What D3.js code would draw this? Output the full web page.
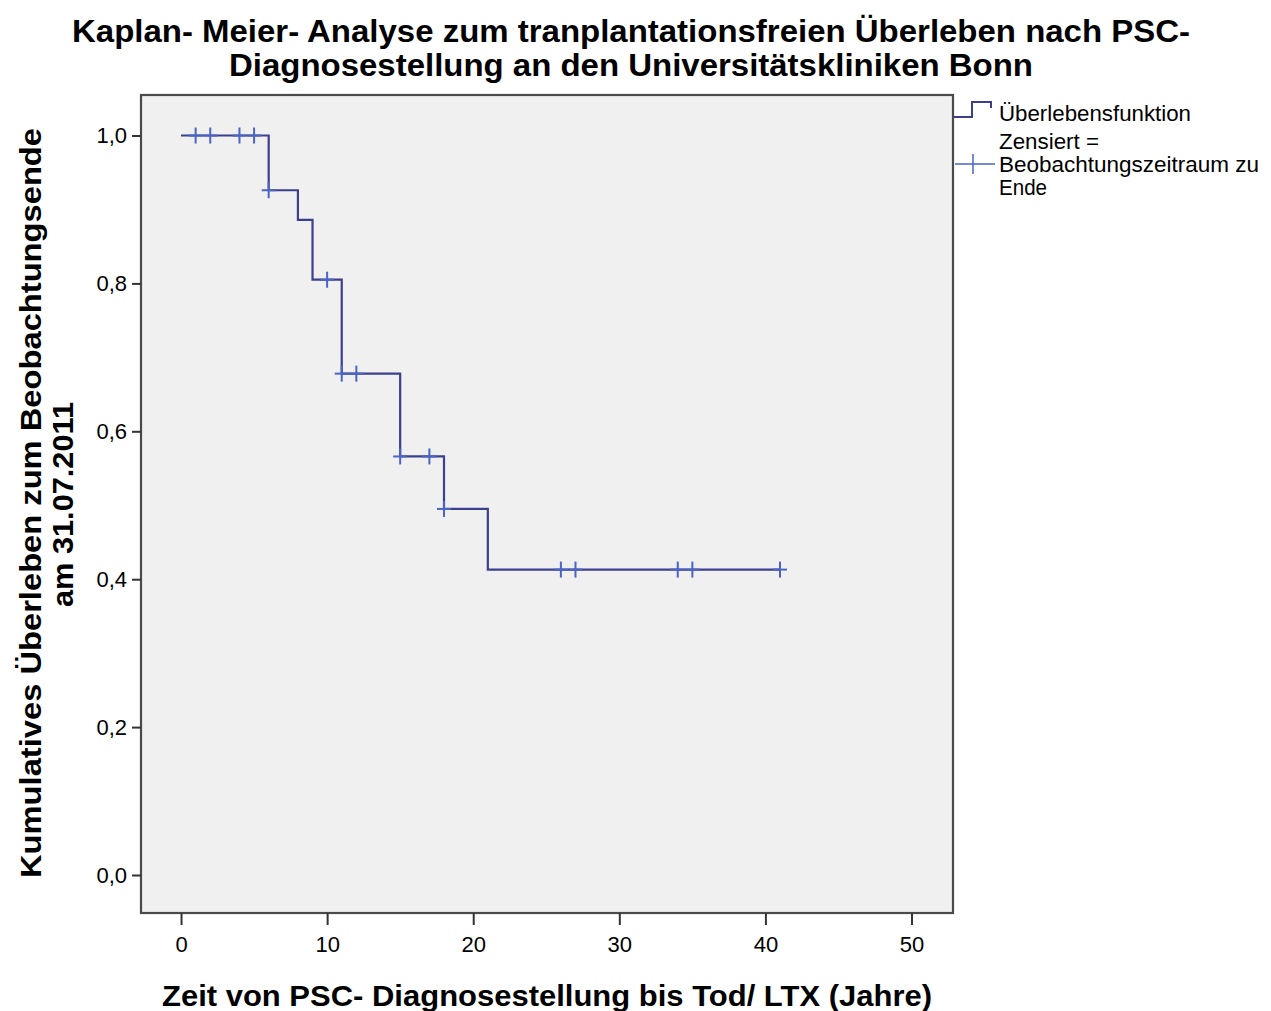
<!DOCTYPE html>
<html>
<head>
<meta charset="utf-8">
<script src="https://cdn.jsdelivr.net/npm/d3@7"></script>
<style>
  body { margin: 0; background: #fff; }
  text { font-family: "Liberation Sans", Arial, sans-serif; fill: #000; }
</style>
</head>
<body>
<div id="chart"></div>
<script>
// Kaplan-Meier steps (time in years, cumulative survival)
var stepTimes = [0, 6, 8, 9, 11, 15, 18, 21];
var stepSurvival = [1.0, 0.926, 0.886, 0.805, 0.678, 0.566, 0.495, 0.413];
var lastTime = 41;
// censored observations (time in years)
var censorTimes = [1, 2, 4, 5, 6, 10, 11, 12, 15, 17, 18, 26, 27, 34, 35, 41];

var xTicks = [0, 10, 20, 30, 40, 50];
var yTicks = [0, 0.2, 0.4, 0.6, 0.8, 1.0];

var titleLines = ["Kaplan- Meier- Analyse zum tranplantationsfreien Überleben nach PSC-",
                  "Diagnosestellung an den Universitätskliniken Bonn"];
var yLabelLines = ["Kumulatives Überleben zum Beobachtungsende", "am 31.07.2011"];
var xLabel = "Zeit von PSC- Diagnosestellung bis Tod/ LTX (Jahre)";
var legendLines = ["Überlebensfunktion", "Zensiert =", "Beobachtungszeitraum zu", "Ende"];

var width = 1271,
    height = 1011,
    plot = { left: 141, right: 953, top: 95, bottom: 913 },
    lineColor = "#3c3f8e",
    censorColor = "#4a63c6";

var x = d3.scaleLinear().domain([-2.74, 52.84]).range([plot.left, plot.right]);
var y = d3.scaleLinear().domain([-0.0514, 1.0548]).range([plot.bottom, plot.top]);

var comma = d3.formatLocale({ decimal: ",", thousands: ".", grouping: [3], currency: ["", "€"] }).format(".1f");

var svg = d3.select("#chart").append("svg")
    .attr("width", width)
    .attr("height", height);

// plot background + frame
svg.append("rect")
    .attr("x", plot.left).attr("y", plot.top)
    .attr("width", plot.right - plot.left).attr("height", plot.bottom - plot.top)
    .attr("fill", "#f0f0f0")
    .attr("stroke", "#4a4a4a")
    .attr("stroke-width", 2.2);

// axes
var xAxis = g => g
    .attr("transform", `translate(0,${plot.bottom})`)
    .call(d3.axisBottom(x).tickValues(xTicks).tickSize(12).tickPadding(11).tickFormat(d3.format("d")))
    .call(g => g.select(".domain").remove())
    .call(g => g.selectAll("line").attr("stroke", "#333").attr("stroke-width", 2))
    .call(g => g.selectAll("text").attr("font-size", 22).attr("font-family", "Liberation Sans, Arial, sans-serif"));

var yAxis = g => g
    .attr("transform", `translate(${plot.left},0)`)
    .call(d3.axisLeft(y).tickValues(yTicks).tickSize(9).tickPadding(5).tickFormat(comma))
    .call(g => g.select(".domain").remove())
    .call(g => g.selectAll("line").attr("stroke", "#333").attr("stroke-width", 2))
    .call(g => g.selectAll("text").attr("font-size", 22).attr("font-family", "Liberation Sans, Arial, sans-serif"));

svg.append("g").call(xAxis);
svg.append("g").call(yAxis);

// survival step line
var pts = stepTimes.map((t, i) => [t, stepSurvival[i]]);
pts.push([lastTime, stepSurvival[stepSurvival.length - 1]]);

var line = d3.line()
    .x(d => x(d[0]))
    .y(d => y(d[1]))
    .curve(d3.curveStepAfter);

svg.append("path")
    .datum(pts)
    .attr("fill", "none")
    .attr("stroke", lineColor)
    .attr("stroke-width", 2.2)
    .attr("d", line);

// survival value at a time (right-continuous step)
function survivalAt(t) {
    var s = stepSurvival[0];
    stepTimes.forEach((st, i) => { if (st <= t) s = stepSurvival[i]; });
    return s;
}

var marks = svg.append("g")
    .attr("stroke", censorColor)
    .attr("stroke-width", 2);

marks.selectAll("g")
    .data(censorTimes)
    .join("g")
    .attr("transform", d => `translate(${x(d)},${y(survivalAt(d))})`)
    .call(g => g.append("line").attr("x1", 0).attr("x2", 0).attr("y1", -8).attr("y2", 8))
    .call(g => g.append("line").attr("x1", -7).attr("x2", 7).attr("y1", 0).attr("y2", 0));

// title
svg.append("text")
    .attr("x", 72).attr("y", 42)
    .attr("font-size", 31).attr("font-weight", "bold")
    .attr("textLength", 1118).attr("lengthAdjust", "spacingAndGlyphs")
    .text(titleLines[0]);
svg.append("text")
    .attr("x", 229).attr("y", 76)
    .attr("font-size", 31).attr("font-weight", "bold")
    .attr("textLength", 804).attr("lengthAdjust", "spacingAndGlyphs")
    .text(titleLines[1]);

// x label
svg.append("text")
    .attr("x", 162).attr("y", 1006)
    .attr("font-size", 30).attr("font-weight", "bold")
    .attr("textLength", 770).attr("lengthAdjust", "spacingAndGlyphs")
    .text(xLabel);

// y label (rotated)
svg.append("text")
    .attr("transform", "translate(41,878) rotate(-90)")
    .attr("font-size", 30).attr("font-weight", "bold")
    .attr("textLength", 750).attr("lengthAdjust", "spacingAndGlyphs")
    .text(yLabelLines[0]);
svg.append("text")
    .attr("transform", "translate(73,607) rotate(-90)")
    .attr("font-size", 30).attr("font-weight", "bold")
    .attr("textLength", 205).attr("lengthAdjust", "spacingAndGlyphs")
    .text(yLabelLines[1]);

// legend
var legend = svg.append("g");

legend.append("path")
    .attr("d", "M954,117 H972 V102 H991 V108")
    .attr("fill", "none")
    .attr("stroke", lineColor)
    .attr("stroke-width", 2);

legend.append("line")
    .attr("x1", 955).attr("x2", 995).attr("y1", 164).attr("y2", 164)
    .attr("stroke", censorColor).attr("stroke-width", 1.5);
legend.append("line")
    .attr("x1", 973).attr("x2", 973).attr("y1", 154).attr("y2", 174)
    .attr("stroke", censorColor).attr("stroke-width", 1.5);

var legendY = [121, 149, 172, 195];
var legendW = [192, 100, 260, 48];
legend.selectAll("text")
    .data(legendLines)
    .join("text")
    .attr("x", 999)
    .attr("y", (d, i) => legendY[i])
    .attr("font-size", 21.5)
    .attr("textLength", (d, i) => legendW[i])
    .attr("lengthAdjust", "spacingAndGlyphs")
    .text(d => d);
</script>
</body>
</html>
